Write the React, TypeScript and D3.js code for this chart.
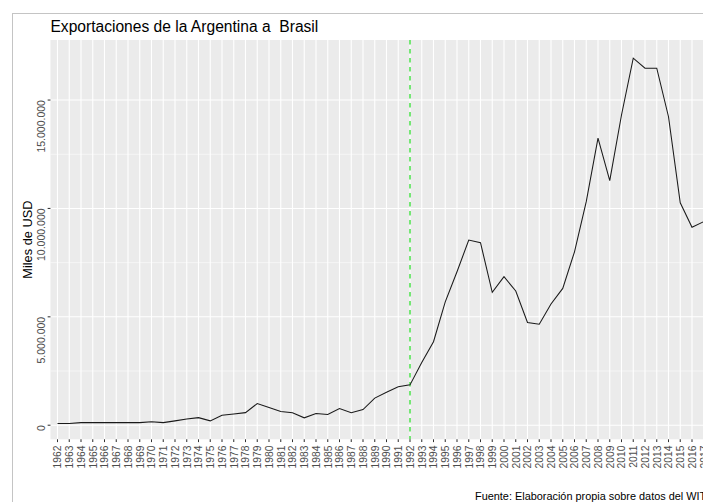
import * as d3 from 'd3';
import { useEffect, useRef } from 'react';

// Exportaciones de la Argentina a Brasil, miles de USD
const years = d3.range(1962, 2018);
const exports = [
  80000, 80000, 120000, 120000, 120000, 120000, 120000, 120000, 160000, 120000,
  200000, 290000, 350000, 200000, 460000, 520000, 580000, 1000000, 820000, 630000,
  570000, 340000, 540000, 490000, 770000, 580000, 720000, 1250000, 1520000, 1770000,
  1860000, 2890000, 3850000, 5690000, 7080000, 8540000, 8420000, 6130000, 6850000, 6190000,
  4740000, 4660000, 5590000, 6310000, 8000000, 10310000, 13240000, 11280000, 14310000, 16930000,
  16470000, 16470000, 14230000, 10260000, 9130000, 9390000,
];
const majorTicks = [0, 5000000, 10000000, 15000000];
const minorTicks = [2500000, 7500000, 12500000];
const markerYear = 1992;

const title = 'Exportaciones de la Argentina a  Brasil';
const yTitle = 'Miles de USD';
const caption = 'Fuente: Elaboración propia sobre datos del WITS';

const fmt = d3.formatLocale({ decimal: ',', thousands: '.', grouping: [3], currency: ['$', ''] }).format(',d');

const App = () => {
  const ref = useRef(null);

  useEffect(() => {
    const svg = d3.select(ref.current);
    svg.selectAll('*').remove();

    const font = '"Liberation Sans", Arial, sans-serif';
    const panel = { left: 50.45, right: 710.8, top: 40, bottom: 439.3 };

    const x = d3.scalePoint()
      .domain(years.map(String))
      .range([panel.left, panel.right])
      .padding(0.6);

    const y = d3.scaleLinear()
      .domain([-650000, 17770000])
      .range([panel.bottom, panel.top]);

    // outer frame
    svg.append('rect')
      .attr('x', 12.5).attr('y', 13.5)
      .attr('width', 760).attr('height', 560)
      .attr('fill', '#fff')
      .attr('stroke', '#c4c4c4');

    // panel
    svg.append('rect')
      .attr('x', panel.left).attr('y', panel.top)
      .attr('width', panel.right - panel.left)
      .attr('height', panel.bottom - panel.top)
      .attr('fill', '#ebebeb');

    const grid = svg.append('g');
    grid.selectAll('line.minor')
      .data(minorTicks)
      .enter().append('line')
      .attr('class', 'minor')
      .attr('x1', panel.left).attr('x2', panel.right)
      .attr('y1', d => y(d)).attr('y2', d => y(d))
      .attr('stroke', '#fff').attr('stroke-width', 0.55);

    grid.selectAll('line.major')
      .data(majorTicks)
      .enter().append('line')
      .attr('class', 'major')
      .attr('x1', panel.left).attr('x2', panel.right)
      .attr('y1', d => y(d)).attr('y2', d => y(d))
      .attr('stroke', '#fff').attr('stroke-width', 1.1);

    grid.selectAll('line.vert')
      .data(years)
      .enter().append('line')
      .attr('class', 'vert')
      .attr('x1', d => x(String(d))).attr('x2', d => x(String(d)))
      .attr('y1', panel.top).attr('y2', panel.bottom)
      .attr('stroke', '#fff').attr('stroke-width', 1.1);

    // dashed marker
    svg.append('line')
      .attr('x1', x(String(markerYear))).attr('x2', x(String(markerYear)))
      .attr('y1', panel.top).attr('y2', panel.bottom)
      .attr('stroke', '#5fe35f')
      .attr('stroke-width', 1.7)
      .attr('stroke-dasharray', '4.5,4.5');

    const line = d3.line()
      .x((d, i) => x(String(years[i])))
      .y(d => y(d));

    svg.append('path')
      .datum(exports)
      .attr('d', line)
      .attr('fill', 'none')
      .attr('stroke', '#1a1a1a')
      .attr('stroke-width', 1.05);

    // y axis
    const yAxis = svg.append('g');
    yAxis.selectAll('line')
      .data(majorTicks)
      .enter().append('line')
      .attr('x1', panel.left - 2.8).attr('x2', panel.left)
      .attr('y1', d => y(d)).attr('y2', d => y(d))
      .attr('stroke', '#333').attr('stroke-width', 1.05);
    yAxis.selectAll('text')
      .data(majorTicks)
      .enter().append('text')
      .attr('transform', d => `translate(45,${y(d)}) rotate(-90)`)
      .attr('text-anchor', 'end')
      .style('font-family', font)
      .style('font-size', '10.5px')
      .style('fill', '#4d4d4d')
      .text(d => fmt(d));

    // x axis
    const xAxis = svg.append('g');
    xAxis.selectAll('line')
      .data(years)
      .enter().append('line')
      .attr('x1', d => x(String(d))).attr('x2', d => x(String(d)))
      .attr('y1', panel.bottom).attr('y2', panel.bottom + 2.8)
      .attr('stroke', '#333').attr('stroke-width', 1.05);
    xAxis.selectAll('text')
      .data(years)
      .enter().append('text')
      .attr('transform', d => `translate(${x(String(d)) + 3.8},445.5) rotate(-90)`)
      .attr('text-anchor', 'end')
      .style('font-family', font)
      .style('font-size', '10.3px')
      .style('fill', '#4d4d4d')
      .text(d => d);

    // titles
    svg.append('text')
      .attr('transform', `translate(31.7,${(panel.top + panel.bottom) / 2}) rotate(-90)`)
      .attr('text-anchor', 'middle')
      .style('font-family', font)
      .style('font-size', '12.8px')
      .style('fill', '#000')
      .text(yTitle);

    svg.append('text')
      .attr('x', panel.left).attr('y', 32.3)
      .style('font-family', font)
      .style('font-size', '15.6px')
      .style('white-space', 'pre')
      .style('fill', '#000')
      .text(title);

    svg.append('text')
      .attr('x', 475).attr('y', 499.5)
      .style('font-family', font)
      .style('font-size', '10.9px')
      .style('fill', '#000')
      .text(caption);

    return () => {
      svg.selectAll('*').remove();
    };
  }, []);

  return (
    <svg
      ref={ref}
      width={703}
      height={502}
      style={{ position: 'absolute', left: 0, top: 0, background: '#fff' }}
    />
  );
};

export default App;
